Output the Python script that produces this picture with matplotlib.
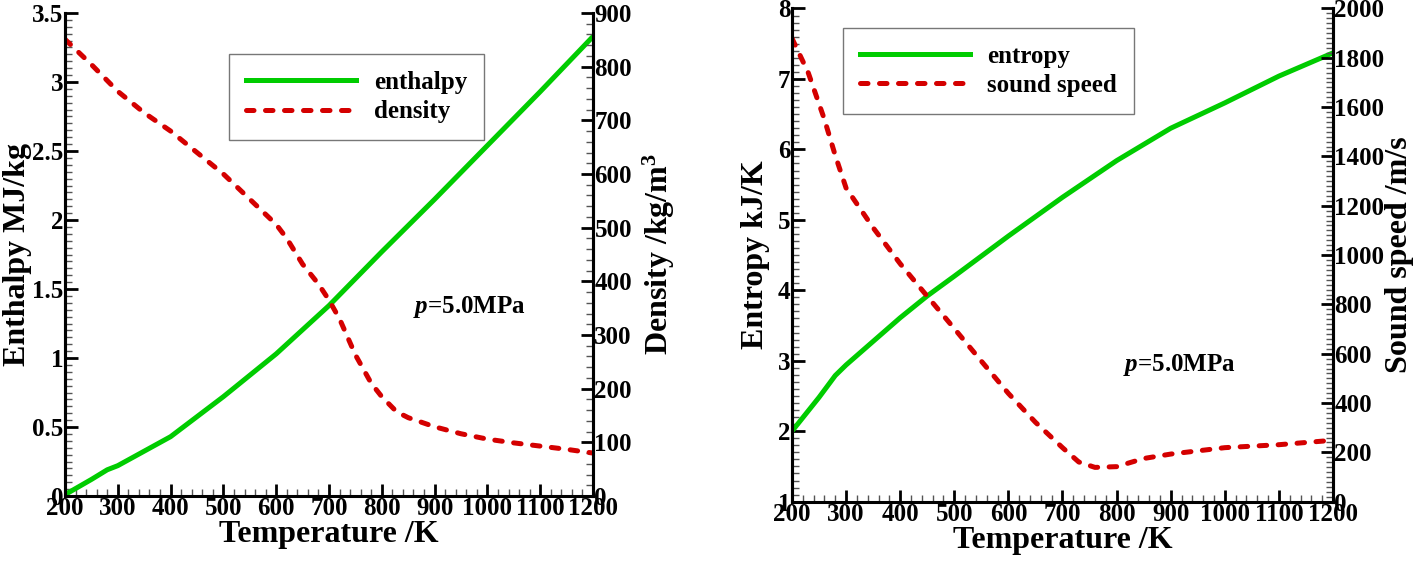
import numpy as np
import matplotlib.pyplot as plt
from matplotlib.ticker import MultipleLocator

plt.rcParams['font.family'] = ['Liberation Serif', 'DejaVu Serif']
plt.rcParams['font.weight'] = 'bold'
plt.rcParams['mathtext.fontset'] = 'custom'
plt.rcParams['mathtext.rm'] = 'Liberation Serif:bold'
plt.rcParams['mathtext.it'] = 'Liberation Serif:italic:bold'

# left panel: enthalpy and density
T_h = [200, 250, 280, 300, 400, 500, 600, 700, 800, 900, 1000, 1100, 1200]
enthalpy = [0.01, 0.12, 0.19, 0.22, 0.43, 0.72, 1.03, 1.38, 1.77, 2.15, 2.54, 2.93, 3.33]
T_rho = [200, 250, 300, 350, 400, 450, 500, 550, 600, 620, 650, 680, 700, 720, 750,
         780, 800, 828, 850, 900, 950, 1000, 1050, 1100, 1150, 1200]
density = [851, 804, 754, 714, 680, 640, 600, 553, 506, 480, 432, 395, 365, 330, 263,
           210, 185, 157, 146, 129, 116, 106, 99, 93, 87, 80]

# right panel: entropy and sound speed
T_s = [200, 250, 280, 300, 400, 450, 500, 600, 700, 800, 900, 1000, 1100, 1200]
entropy = [2.0, 2.48, 2.79, 2.94, 3.61, 3.92, 4.20, 4.77, 5.32, 5.84, 6.30, 6.66, 7.04, 7.37]
T_c = [200, 230, 260, 280, 300, 350, 400, 450, 500, 550, 600, 650, 700, 730,
       760, 800, 850, 900, 1000, 1100, 1200]
sound = [1879, 1740, 1550, 1404, 1272, 1111, 965, 833, 702, 570, 439, 322, 219, 161,
         139, 142, 175, 193, 219, 231, 249]

green = '#00cc00'
red = '#d40000'
fs_tick = 18
fs_lab = 23
fs_leg = 18
dash = (0, (1.5, 2.3))


def style(ax, side):
    ax.tick_params(axis='both', which='major', direction='in', length=9, width=2,
                   labelsize=fs_tick, pad=1)
    ax.tick_params(axis='both', which='minor', direction='in', length=5, width=1,
                   color='#555555')
    ax.tick_params(axis='x', top=False)
    ax.tick_params(axis='y', left=(side == 'left'), right=(side == 'right'),
                   labelleft=(side == 'left'), labelright=(side == 'right'))
    for s in ax.spines.values():
        s.set_linewidth(2.2)
    ax.spines['top'].set_visible(False)
    for lab in ax.get_xticklabels() + ax.get_yticklabels():
        lab.set_fontweight('bold')


def legend(ax, handles, anchor):
    leg = ax.legend(handles=handles, loc='upper left', bbox_to_anchor=anchor,
                    borderaxespad=0, fancybox=False, edgecolor='#555555',
                    fontsize=fs_leg, handlelength=4.4, borderpad=0.68,
                    labelspacing=0.25, handletextpad=0.7)
    leg.get_frame().set_linewidth(1)
    for t in leg.get_texts():
        t.set_fontweight('bold')


fig = plt.figure(figsize=(14.16, 5.65), dpi=100)

# ---- left
ax1 = fig.add_axes([0.0459, 0.1221, 0.3729, 0.8549])
ax2 = ax1.twinx()
l1, = ax1.plot(T_h, enthalpy, color=green, lw=3.6, label='enthalpy')
l2, = ax2.plot(T_rho, density, color=red, lw=3.6, ls=dash, dash_capstyle='round',
               label='density')
ax1.set_xlim(200, 1200)
ax1.set_ylim(0, 3.5)
ax2.set_ylim(0, 900)
ax1.xaxis.set_major_locator(MultipleLocator(100))
ax1.xaxis.set_minor_locator(MultipleLocator(20))
ax1.yaxis.set_minor_locator(MultipleLocator(0.05))
ax2.yaxis.set_major_locator(MultipleLocator(100))
ax2.yaxis.set_minor_locator(MultipleLocator(20))
ax1.set_yticks(np.arange(0, 3.51, 0.5), ['0', '0.5', '1', '1.5', '2', '2.5', '3', '3.5'])
style(ax1, 'left')
style(ax2, 'right')
ax2.spines['bottom'].set_visible(False)
ax1.set_xlabel('Temperature /K', fontsize=fs_lab, fontweight='bold', labelpad=0)
ax1.set_ylabel('Enthalpy MJ/kg', fontsize=fs_lab, fontweight='bold', labelpad=0)
ax2.set_ylabel('Density /kg/m$^3$', fontsize=fs_lab, fontweight='bold', labelpad=6)
ax1.text(859, 1.37, '$p$=5.0MPa', fontsize=18, fontweight='bold', va='center')
legend(ax1, [l1, l2], (0.311, 0.915))

# ---- right
ax3 = fig.add_axes([0.5593, 0.1121, 0.3821, 0.8729])
ax4 = ax3.twinx()
l3, = ax3.plot(T_s, entropy, color=green, lw=3.6, label='entropy')
l4, = ax4.plot(T_c, sound, color=red, lw=3.6, ls=dash, dash_capstyle='round',
               label='sound speed')
ax3.set_xlim(200, 1200)
ax3.set_ylim(1, 8)
ax4.set_ylim(0, 2000)
ax3.xaxis.set_major_locator(MultipleLocator(100))
ax3.xaxis.set_minor_locator(MultipleLocator(20))
ax3.yaxis.set_major_locator(MultipleLocator(1))
ax3.yaxis.set_minor_locator(MultipleLocator(0.1))
ax4.yaxis.set_major_locator(MultipleLocator(200))
ax4.yaxis.set_minor_locator(MultipleLocator(20))
style(ax3, 'left')
style(ax4, 'right')
ax4.spines['bottom'].set_visible(False)
ax3.set_xlabel('Temperature /K', fontsize=fs_lab, fontweight='bold', labelpad=0)
ax3.set_ylabel('Entropy kJ/K', fontsize=fs_lab, fontweight='bold', labelpad=6)
ax4.set_ylabel('Sound speed /m/s', fontsize=fs_lab, fontweight='bold', labelpad=0)
ax3.text(811, 2.94, '$p$=5.0MPa', fontsize=18, fontweight='bold', va='center')
legend(ax3, [l3, l4], (0.094, 0.961))

fig.savefig('out.png', dpi=100)
